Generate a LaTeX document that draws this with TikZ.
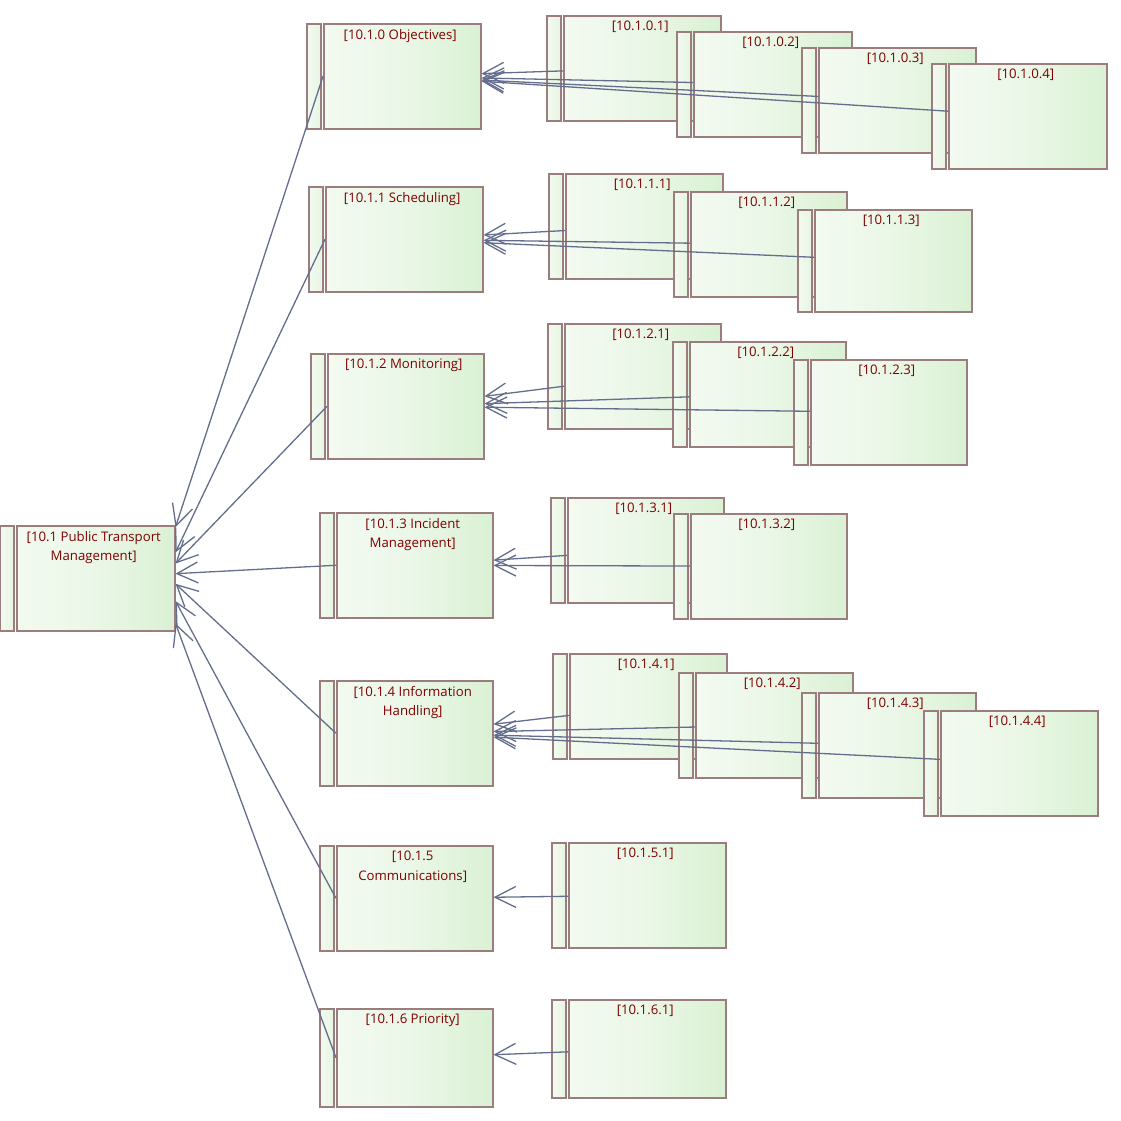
\documentclass[tikz,border=0pt]{standalone}
\usepackage{fontspec}
\setmainfont{Open Sans}
\usetikzlibrary{arrows.meta,calc}
\definecolor{bordc}{RGB}{155,125,125}
\definecolor{linec}{RGB}{100,110,140}
\definecolor{txtc}{RGB}{128,0,0}
\definecolor{fillL}{RGB}{243,250,241}
\definecolor{fillR}{RGB}{218,241,212}
\newcommand\mkbox[6]{%
  \node[mainbox, minimum width=#4pt, minimum height=#5pt, anchor=north west] (#1) at (#2,#3) {};
  \node[stripbox, minimum height=#5pt, anchor=north east] (#1s) at ([xshift=-1.5pt]#1.north west) {};
  \node[lbl, anchor=north] (#1t) at ([xshift=-2pt,yshift=-6pt]#1.north) {#6};
}
\begin{document}
\begin{tikzpicture}[x=1pt,y=-1pt,
  mainbox/.style={rectangle, draw=bordc, line width=1.5pt, inner sep=0pt,
    left color=fillL, right color=fillR, middle color=fillL!65!fillR},
  stripbox/.style={rectangle, draw=bordc, line width=1.5pt, inner sep=0pt, minimum width=14pt,
    left color=fillL, right color=fillL!50!fillR},
  lbl/.style={inner sep=0pt, text=txtc, align=center, font=\fontsize{13.2}{19.5}\selectfont},
  conn/.style={draw=linec, line width=1.3pt, -{Straight Barb[length=21pt,width=21pt,line width=1.3pt]}}]
\useasboundingbox (0,0) rectangle (1121,1120);
% level 0
\mkbox{root}{16}{525}{158}{105}{[10.1 Public Transport\\Management]}
% level 1
\mkbox{obj}{323}{23}{157}{105}{[10.1.0 Objectives]}
\mkbox{sch}{325}{186}{157}{105}{[10.1.1 Scheduling]}
\mkbox{mon}{327}{353}{156}{105}{[10.1.2 Monitoring]}
\mkbox{inc}{336}{512}{156}{105}{[10.1.3 Incident\\Management]}
\mkbox{inf}{336}{680}{156}{105}{[10.1.4 Information\\Handling]}
\mkbox{com}{336}{845}{156}{105}{[10.1.5\\Communications]}
\mkbox{pri}{336}{1008}{156}{98}{[10.1.6 Priority]}
% level 2
\mkbox{a1}{563}{15}{157}{105}{[10.1.0.1]}
\mkbox{a2}{693}{31}{158}{105}{[10.1.0.2]}
\mkbox{a3}{818}{47}{157}{105}{[10.1.0.3]}
\mkbox{a4}{948}{63}{158}{105}{[10.1.0.4]}
\mkbox{b1}{565}{173}{157}{105}{[10.1.1.1]}
\mkbox{b2}{690}{191}{156}{105}{[10.1.1.2]}
\mkbox{b3}{814}{209}{157}{102}{[10.1.1.3]}
\mkbox{c1}{564}{323}{156}{105}{[10.1.2.1]}
\mkbox{c2}{689}{341}{156}{105}{[10.1.2.2]}
\mkbox{c3}{810}{359}{156}{105}{[10.1.2.3]}
\mkbox{d1}{567}{497}{156}{105}{[10.1.3.1]}
\mkbox{d2}{690}{513}{156}{105}{[10.1.3.2]}
\mkbox{e1}{569}{653}{157}{105}{[10.1.4.1]}
\mkbox{e2}{695}{672}{157}{105}{[10.1.4.2]}
\mkbox{e3}{818}{692}{157}{105}{[10.1.4.3]}
\mkbox{e4}{940}{710}{157}{105}{[10.1.4.4]}
\mkbox{f1}{568}{842}{157}{105}{[10.1.5.1]}
\mkbox{g1}{568}{999}{157}{98}{[10.1.6.1]}
% arrival points on root
\coordinate (r1) at ($(root.north east)!0.02!(root.south east)$);
\coordinate (r2) at ($(root.north east)!0.257!(root.south east)$);
\coordinate (r3) at ($(root.north east)!0.362!(root.south east)$);
\coordinate (r4) at ($(root.north east)!0.457!(root.south east)$);
\coordinate (r5) at ($(root.north east)!0.552!(root.south east)$);
\coordinate (r6) at ($(root.north east)!0.714!(root.south east)$);
\coordinate (r7) at ($(root.north east)!0.924!(root.south east)$);
% connectors
\draw[conn] (obj.west) -- (r1);
\draw[conn] (sch.west) -- (r2);
\draw[conn] (mon.west) -- (r3);
\draw[conn] (inc.west) -- (r4);
\draw[conn] (inf.west) -- (r5);
\draw[conn] (com.west) -- (r6);
\draw[conn] (pri.west) -- (r7);
\draw[conn] (a1) -- (obj);
\draw[conn] (a2) -- (obj);
\draw[conn] (a3) -- (obj);
\draw[conn] (a4) -- (obj);
\draw[conn] (b1) -- (sch);
\draw[conn] (b2) -- (sch);
\draw[conn] (b3) -- (sch);
\draw[conn] (c1) -- (mon);
\draw[conn] (c2) -- (mon);
\draw[conn] (c3) -- (mon);
\draw[conn] (d1) -- (inc);
\draw[conn] (d2) -- (inc);
\draw[conn] (e1) -- (inf);
\draw[conn] (e2) -- (inf);
\draw[conn] (e3) -- (inf);
\draw[conn] (e4) -- (inf);
\draw[conn] (f1) -- (com);
\draw[conn] (g1) -- (pri);
\end{tikzpicture}
\end{document}
